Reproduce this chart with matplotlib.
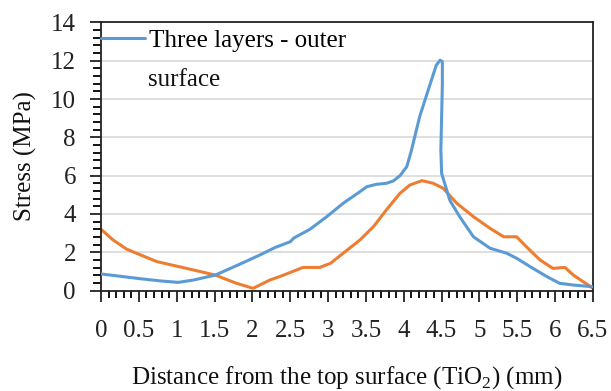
import matplotlib
matplotlib.use("Agg")
import matplotlib.pyplot as plt
from matplotlib.ticker import MultipleLocator

blue_x = [0, 0.25, 0.52, 0.8, 1.02, 1.22, 1.51, 1.84, 2.1, 2.3, 2.5, 2.55, 2.76, 2.98,
          3.2, 3.42, 3.51, 3.64, 3.77, 3.86, 3.95, 4.04, 4.10, 4.21, 4.35, 4.43, 4.48,
          4.51, 4.51, 4.50, 4.49, 4.50, 4.54, 4.61, 4.74, 4.92, 5.14, 5.36, 5.49, 5.67,
          5.89, 6.06, 6.24, 6.5]
blue_y = [0.87, 0.75, 0.62, 0.5, 0.43, 0.55, 0.81, 1.39, 1.86, 2.25, 2.55, 2.75, 3.2, 3.85,
          4.56, 5.16, 5.42, 5.55, 5.6, 5.72, 6.0, 6.47, 7.3, 9.08, 10.8, 11.77, 12.03,
          11.95, 10.8, 9.08, 7.34, 6.12, 5.6, 4.7, 3.85, 2.81, 2.21, 1.95, 1.69, 1.25,
          0.73, 0.38, 0.29, 0.2]

orange_x = [0, 0.16, 0.34, 0.74, 1.13, 1.51, 1.79, 2.01, 2.23, 2.36, 2.67, 2.89, 3.03, 3.2,
            3.42, 3.6, 3.77, 3.95, 4.08, 4.24, 4.39, 4.52, 4.70, 4.92, 5.14, 5.32, 5.49,
            5.62, 5.80, 5.97, 6.13, 6.24, 6.5]
orange_y = [3.2, 2.64, 2.16, 1.51, 1.16, 0.81, 0.38, 0.12, 0.55, 0.73, 1.21, 1.21, 1.42, 1.95,
            2.64, 3.34, 4.21, 5.08, 5.51, 5.74, 5.6, 5.34, 4.56, 3.86, 3.25, 2.81, 2.81,
            2.29, 1.6, 1.16, 1.21, 0.81, 0.12]

legend_label = "Three layers - outer"
legend_label2 = "surface"
xlabel = "Distance from the top surface (TiO$_2$) (mm)"
ylabel = "Stress (MPa)"
xticks = [0, 0.5, 1, 1.5, 2, 2.5, 3, 3.5, 4, 4.5, 5, 5.5, 6, 6.5]
xticklabels = ["0", "0.5", "1", "1.5", "2", "2.5", "3", "3.5", "4", "4.5", "5", "5.5", "6", "6.5"]
yticks = [0, 2, 4, 6, 8, 10, 12, 14]

plt.rcParams['font.family'] = ['Liberation Serif', 'DejaVu Serif']
plt.rcParams['mathtext.fontset'] = 'custom'
plt.rcParams['mathtext.rm'] = 'Liberation Serif'

FS = 18
W, H = 611, 391
fig = plt.figure(figsize=(W / 100, H / 100), dpi=100)
L, R, T, B = 101, 593, 22.4, 290.6
ax = fig.add_axes([L / W, 1 - B / H, (R - L) / W, (B - T) / H])

blue = '#5B9BD5'
orange = '#ED7D31'
ax.plot(blue_x, blue_y, color=blue, lw=2.2, solid_joinstyle='round', solid_capstyle='round', zorder=3,
        label=legend_label)
ax.plot(orange_x, orange_y, color=orange, lw=2.2, solid_joinstyle='round', solid_capstyle='round', zorder=2)

ax.set_xlim(0, 6.5)
ax.set_ylim(0, 14)
ax.set_xticks(xticks)
ax.set_xticklabels(xticklabels)
ax.set_yticks(yticks)
ax.xaxis.set_minor_locator(MultipleLocator(0.1))
ax.yaxis.set_minor_locator(MultipleLocator(0.4))
ax.grid(axis='y', which='major', color='#D9D9D9', lw=1.2, zorder=0)
ax.set_axisbelow(True)

ax.tick_params(axis='x', which='major', direction='out', length=8, width=1.3, pad=13, labelsize=FS, colors='#222222')
ax.tick_params(axis='x', which='minor', direction='out', length=5, width=1.3)
ax.tick_params(axis='y', which='major', direction='out', length=8, width=1.3, pad=10, labelsize=FS, colors='#222222')
ax.tick_params(axis='y', which='minor', direction='out', length=6, width=1.3)
for s in ax.spines.values():
    s.set_linewidth(1.3)
    s.set_color('#222222')

ax.set_xlabel(xlabel, fontsize=FS, labelpad=16, color='#111111')
ax.set_ylabel(ylabel, fontsize=FS, labelpad=10, color='#111111')

leg = ax.legend(loc='upper left', bbox_to_anchor=(0.0, 0.975), frameon=False, fontsize=FS,
                handlelength=1.75, handletextpad=0.18, borderaxespad=0.0, borderpad=0.0)
ax.text(148 / W, 1 - 80 / H, legend_label2, transform=fig.transFigure, fontsize=FS,
        va='center', ha='left', color='#111111')

fig.savefig("out.png", dpi=100)
